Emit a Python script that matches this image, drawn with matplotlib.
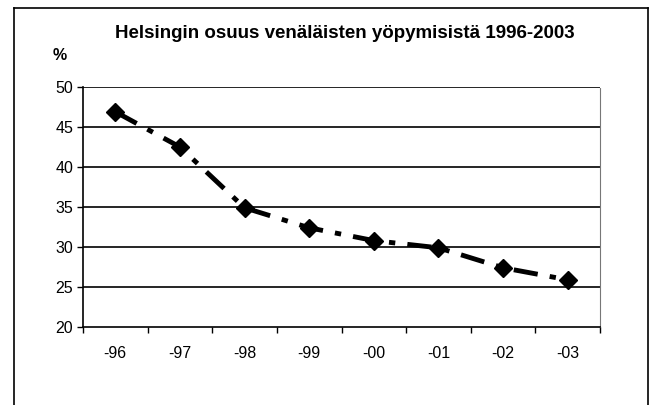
import matplotlib.pyplot as plt
from matplotlib.lines import Line2D

# data
years = ['-96', '-97', '-98', '-99', '-00', '-01', '-02', '-03']
share = [46.9, 42.5, 34.9, 32.4, 30.8, 29.9, 27.4, 25.9]
yticks = [20, 25, 30, 35, 40, 45, 50]

plt.rcParams['font.family'] = ['Liberation Sans', 'DejaVu Sans']

fig = plt.figure(figsize=(6.56, 4.05), dpi=100)
ax = fig.add_axes([83/656, 1 - 327/405, (600-83)/656, (327-87)/405])

x = range(len(years))
ax.plot(x, share, color='black', lw=3.5, dashes=(5, 2.5, 1.3, 2.5),
        marker='D', ms=9, mfc='black', mec='black')

ax.set_xlim(-0.5, len(years) - 0.5)
ax.set_ylim(20, 50)
ax.set_yticks(yticks)
ax.set_xticks(list(x))
ax.set_xticklabels(years, fontsize=11.5)
ax.tick_params(axis='x', length=0, pad=14)
ax.tick_params(axis='y', length=4, width=1, direction='out', labelsize=11.5, pad=3)
# category ticks between the labels
ax.set_xticks([i - 0.5 for i in range(len(years) + 1)], minor=True)
ax.tick_params(axis='x', which='minor', length=4, width=1, direction='out')

for v in yticks[1:]:
    ax.axhline(v, color='black', lw=1.2, zorder=0)

ax.spines['left'].set_linewidth(1.2)
ax.spines['bottom'].set_linewidth(1.2)
ax.spines['top'].set_visible(False)
ax.spines['right'].set_color('#777777')
ax.spines['right'].set_linestyle((0, (1, 1)))

fig.text(345/656, 1 - 33/405, 'Helsingin osuus venäläisten yöpymisistä 1996-2003',
         ha='center', va='center', fontsize=13.5, fontweight='bold')
fig.text(60/656, 1 - 56/405, '%', ha='center', va='center', fontsize=11.5, fontweight='bold')

# outer chart frame
fx0, fx1, fy = 14/656, 648/656, 1 - 8/405
fig.add_artist(Line2D([fx0, fx1], [fy, fy], transform=fig.transFigure, color='black', lw=1.2))
fig.add_artist(Line2D([fx0, fx0], [0, fy], transform=fig.transFigure, color='black', lw=1.2))
fig.add_artist(Line2D([fx1, fx1], [0, fy], transform=fig.transFigure, color='black', lw=1.2))

fig.savefig('out.png', dpi=100)
